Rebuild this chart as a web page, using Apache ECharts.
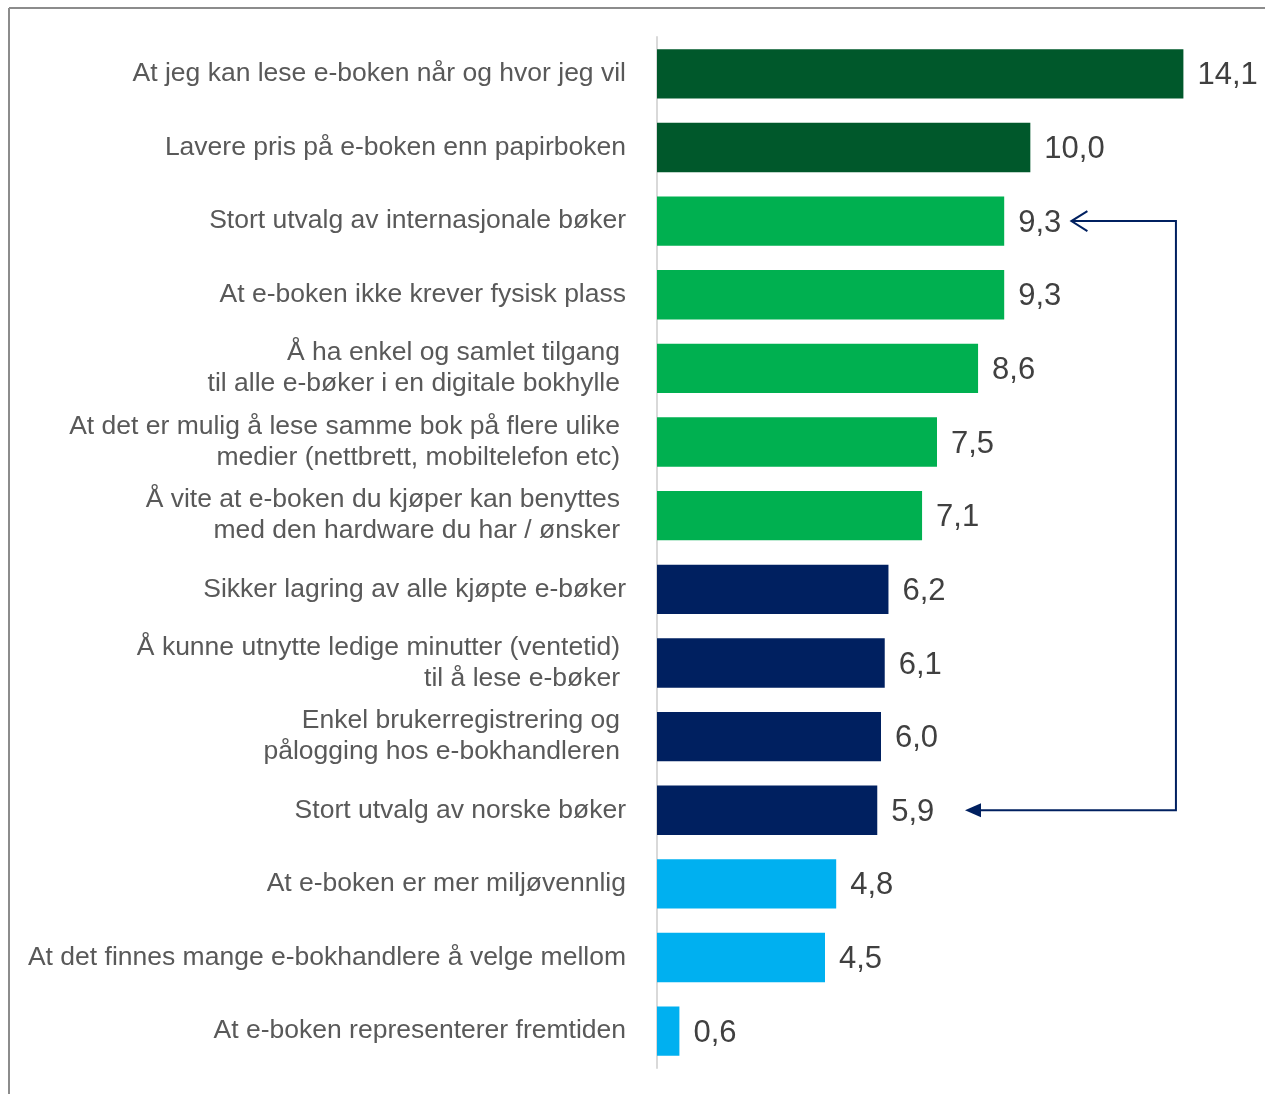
<!DOCTYPE html>
<html lang="no">
<head>
<meta charset="UTF-8">
<title>E-bok</title>
<script src="https://cdn.jsdelivr.net/npm/echarts@6/dist/echarts.min.js"></script>
<style>
  html, body { margin: 0; padding: 0; background: #fff; }
  #chart { width: 1265px; height: 1094px; }
</style>
</head>
<body>
<div id="chart"></div>
<script>
  // top to bottom, as in the picture
  const categories = [
    'At jeg kan lese e-boken når og hvor jeg vil',
    'Lavere pris på e-boken enn papirboken',
    'Stort utvalg av internasjonale bøker',
    'At e-boken ikke krever fysisk plass',
    'Å ha enkel og samlet tilgang\ntil alle e-bøker i en digitale bokhylle',
    'At det er mulig å lese samme bok på flere ulike\nmedier (nettbrett, mobiltelefon etc)',
    'Å vite at e-boken du kjøper kan benyttes\nmed den hardware du har / ønsker',
    'Sikker lagring av alle kjøpte e-bøker',
    'Å kunne utnytte ledige minutter (ventetid)\ntil å lese e-bøker',
    'Enkel brukerregistrering og\npålogging hos e-bokhandleren',
    'Stort utvalg av norske bøker',
    'At e-boken er mer miljøvennlig',
    'At det finnes mange e-bokhandlere å velge mellom',
    'At e-boken representerer fremtiden'
  ];
  const values = [14.1, 10.0, 9.3, 9.3, 8.6, 7.5, 7.1, 6.2, 6.1, 6.0, 5.9, 4.8, 4.5, 0.6];
  const groups = [0, 0, 1, 1, 1, 1, 1, 2, 2, 2, 2, 3, 3, 3];
  const groupColors = ['#00582B', '#00B050', '#002060', '#00B0F0'];

  // arrow between "internasjonale" and "norske" (x in axis units)
  const arrowX = 13.9;
  const arrowTopTip = 11.1;
  const arrowBottomTip = 8.25;

  const font = 'Liberation Sans, Arial, sans-serif';
  const chart = echarts.init(document.getElementById('chart'));

  chart.setOption({
    animation: false,
    grid: { left: 657, top: 37, width: 560, height: 1031 },
    xAxis: {
      type: 'value', min: 0, max: 15,
      show: false
    },
    yAxis: {
      type: 'category',
      inverse: true,
      data: categories,
      axisTick: { show: false },
      axisLine: { show: true, lineStyle: { color: '#D9D9D9', width: 2 } },
      axisLabel: {
        margin: 31,
        color: '#595959',
        fontFamily: font,
        fontSize: 26.5,
        lineHeight: 31,
        align: 'right',
        // two-line labels sit a little further left
        formatter: v => v.indexOf('\n') < 0 ? v : v.split('\n').map(l => '{m|' + l + '}').join('\n'),
        rich: {
          m: { fontFamily: font, fontSize: 26.5, lineHeight: 31, color: '#595959', padding: [0, 6, 0, 0] }
        }
      }
    },
    series: [{
      type: 'bar',
      barCategoryGap: '33%',
      data: values.map((v, i) => ({ value: v, itemStyle: { color: groupColors[groups[i]] } })),
      label: {
        show: true,
        position: 'right',
        distance: 14,
        color: '#404040',
        fontFamily: font,
        fontSize: 31,
        offset: [0, 2],
        formatter: p => p.value.toFixed(1).replace('.', ',')
      }
    }]
  });

  const px = v => chart.convertToPixel({ gridIndex: 0 }, v);
  const aTop = px([arrowX, 2]);
  const aBot = px([arrowX, 10]);
  const tipTop = px([arrowTopTip, 2]);
  const tipBot = px([arrowBottomTip, 10]);
  const navy = '#002060';

  chart.setOption({
    graphic: [
      // frame
      { type: 'line', shape: { x1: 9, y1: 8, x2: 1265, y2: 8 }, style: { stroke: '#8C8C8C', lineWidth: 2 } },
      { type: 'line', shape: { x1: 9, y1: 8, x2: 9, y2: 1094 }, style: { stroke: '#8C8C8C', lineWidth: 2 } },
      // connector
      { type: 'polyline', shape: { points: [[tipTop[0], aTop[1]], [aTop[0], aTop[1]], [aBot[0], aBot[1]], [tipBot[0] + 12, aBot[1]]] },
        style: { stroke: navy, lineWidth: 2, fill: null } },
      // open head at top
      { type: 'polyline', shape: { points: [[tipTop[0] + 16, aTop[1] - 10], [tipTop[0], aTop[1]], [tipTop[0] + 16, aTop[1] + 10]] },
        style: { stroke: navy, lineWidth: 2, fill: null } },
      // filled head at bottom
      { type: 'polygon', shape: { points: [[tipBot[0], aBot[1]], [tipBot[0] + 16, aBot[1] - 7], [tipBot[0] + 16, aBot[1] + 7]] },
        style: { fill: navy } }
    ]
  });
</script>
</body>
</html>
